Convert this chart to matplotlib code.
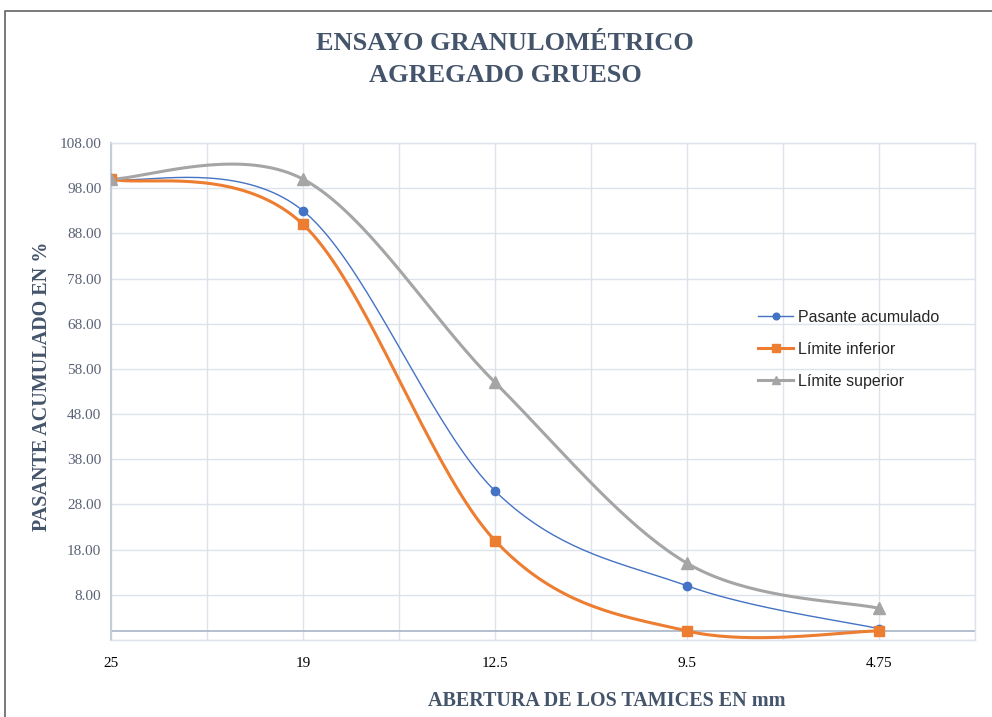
import numpy as np
import matplotlib as mpl
mpl.use('Agg')
import matplotlib.pyplot as plt
from matplotlib.lines import Line2D

# sieve openings (mm) and cumulative passing (%)
tamices = ['25', '19', '12.5', '9.5', '4.75']
pasante = [100, 93, 31, 10, 0.5]
lim_inf = [100, 90, 20, 0, 0]
lim_sup = [100, 100, 55, 15, 5]

SERIF = 'Liberation Serif'
TXT = '#44546A'
GRID = '#DEE3EB'


def smooth(xs, ys, n=40):
    """Cubic Bezier smoothing through every point (office-chart style)."""
    p = np.column_stack([xs, ys]).astype(float)
    ext = np.vstack([p[0], p, p[-1]])
    t = np.linspace(0, 1, n)[:, None]
    out = []
    for i in range(len(p) - 1):
        p0, p3 = ext[i + 1], ext[i + 2]
        c1 = p0 + (ext[i + 2] - ext[i]) / 6
        c2 = p3 - (ext[i + 3] - ext[i + 1]) / 6
        seg = ((1 - t) ** 3) * p0 + 3 * ((1 - t) ** 2) * t * c1 + 3 * (1 - t) * t ** 2 * c2 + t ** 3 * p3
        out.append(seg if i == 0 else seg[1:])
    out = np.vstack(out)
    return out[:, 0], out[:, 1]


fig = plt.figure(figsize=(9.92, 7.17), dpi=100)
ax = fig.add_axes([111 / 992, 1 - 640 / 717, (975 - 111) / 992, (640 - 143) / 717])

x = np.arange(len(tamices))

ax.set_xlim(0, 4.5)
ax.set_ylim(-2, 108)
ax.set_xticks(np.arange(0, 4.51, 0.5), minor=True)
ax.set_xticks(x)
ax.set_xticklabels(tamices, fontfamily=SERIF, fontsize=11, color='black')
ax.set_yticks(np.arange(8, 109, 10))
ax.set_yticklabels([f'{v:.2f}' for v in np.arange(8, 109, 10)],
                   fontfamily=SERIF, fontsize=11, color='#5A6275')
ax.set_yticks(np.arange(-2, 109, 10), minor=True)
ax.tick_params(axis='both', which='both', length=0)
ax.tick_params(axis='x', pad=12)
ax.tick_params(axis='y', pad=7)
ax.grid(True, which='both', color=GRID, lw=1.0, zorder=0)
ax.set_axisbelow(True)
for s in ax.spines.values():
    s.set_color(GRID)
    s.set_linewidth(1.0)
ax.spines['left'].set_color('#C5CDD9')
ax.spines['left'].set_linewidth(1.5)
ax.axhline(0, color='#A8B5C7', lw=1.2, zorder=1.5)

series = [
    ('Pasante acumulado', pasante, '#4472C4', 1.0, 'o', 6.0),
    ('Límite inferior', lim_inf, '#ED7D31', 2.2, 's', 7.5),
    ('Límite superior', lim_sup, '#A5A5A5', 2.2, '^', 8.0),
]
handles = []
for name, vals, col, lw, mk, ms in series:
    sx, sy = smooth(x, vals)
    ax.plot(sx, sy, color=col, lw=lw, zorder=3, solid_capstyle='round')
    ax.plot(x, vals, ls='none', marker=mk, ms=ms, color=col, mec=col, zorder=4)
    handles.append(Line2D([], [], color=col, lw=lw, marker=mk, ms=ms * 0.8, mec=col, label=name))

leg = ax.legend(handles=handles, loc='upper left', bbox_to_anchor=(750 / 992, 1 - 302 / 717),
                bbox_transform=fig.transFigure, frameon=False, handlelength=2.2,
                handletextpad=0.3, labelspacing=1.05, borderpad=0,
                prop={'family': 'Liberation Sans', 'size': 11.5})
for t in leg.get_texts():
    t.set_color('#262626')

fig.text(505 / 992, 1 - 44 / 717, 'ENSAYO GRANULOMÉTRICO', ha='center', va='center',
         fontfamily=SERIF, fontweight='bold', fontsize=19, color=TXT)
fig.text(505 / 992, 1 - 75 / 717, 'AGREGADO GRUESO', ha='center', va='center',
         fontfamily=SERIF, fontweight='bold', fontsize=19, color=TXT)
fig.text(42 / 992, 1 - 386 / 717, 'PASANTE ACUMULADO EN %', ha='center', va='center',
         rotation=90, fontfamily=SERIF, fontweight='bold', fontsize=14.5, color=TXT)
fig.text(607 / 992, 1 - 701 / 717, 'ABERTURA DE LOS TAMICES EN mm', ha='center', va='center',
         fontfamily=SERIF, fontweight='bold', fontsize=14.5, color=TXT)

# chart frame (top and left edges)
fig.add_artist(Line2D([5 / 992, 5 / 992, 1], [0, 1 - 11 / 717, 1 - 11 / 717],
                      transform=fig.transFigure, color='#6E6E6E', lw=1.3))

fig.savefig('out.png', dpi=100)
